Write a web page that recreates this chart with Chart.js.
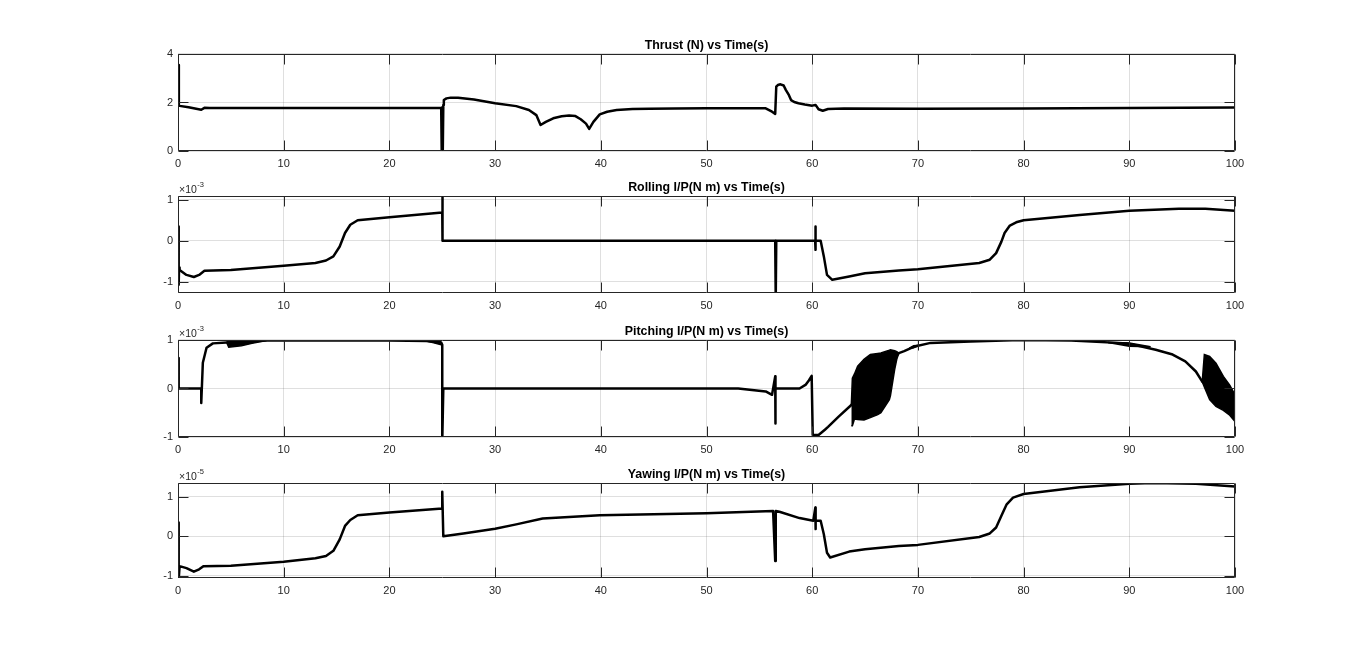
<!DOCTYPE html>
<html><head><meta charset="utf-8">
<script src="https://cdn.jsdelivr.net/npm/chart.js@4.4.1/dist/chart.umd.min.js"></script>
<style>
html,body{margin:0;padding:0;background:#fff;width:1366px;height:651px;overflow:hidden}
canvas{position:absolute;left:0}
</style></head><body>
<canvas id="c0"></canvas><canvas id="c1"></canvas><canvas id="c2"></canvas><canvas id="c3"></canvas>
<script>
// ---------- DATA ----------
const timeTicks = [0,10,20,30,40,50,60,70,80,90,100];

const titles = ["Thrust (N) vs Time(s)", "Rolling I/P(N m) vs Time(s)", "Pitching I/P(N m) vs Time(s)", "Yawing I/P(N m) vs Time(s)"];
const exponents = ["", "-3", "-3", "-5"];

// Thrust (N)
const thrustTicks = [0,2,4];
const thrustT = [0.05,0.08,0.15,1.0,2.2,2.5,3,10,20,24.9,24.95,25.0,25.05,25.1,25.15,25.4,25.8,26.5,28,30,32,33.2,33.9,34.3,34.8,35.5,36.3,37,37.6,38.1,38.6,38.9,39.3,39.9,40.6,41.5,43,44.6,47,50,53,55.6,56.2,56.5,56.6,56.75,57,57.3,57.5,57.8,58,58.3,58.7,59.3,60,60.3,60.4,60.6,61,61.5,63,70,80,90,100];
const thrustV = [3.55,1.9,1.86,1.8,1.70,1.78,1.77,1.77,1.77,1.77,0,1.8,0,1.9,2.1,2.17,2.2,2.2,2.12,1.97,1.85,1.69,1.48,1.07,1.2,1.35,1.43,1.46,1.44,1.31,1.13,0.91,1.2,1.51,1.62,1.69,1.73,1.74,1.75,1.76,1.76,1.76,1.62,1.53,2.65,2.72,2.75,2.7,2.52,2.3,2.1,2.02,1.97,1.92,1.87,1.9,1.85,1.72,1.66,1.73,1.75,1.74,1.75,1.77,1.79];

// Rolling input (x1e-3 N m)
const rollTicks = [-1,0,1];
const rollT = [0.05,0.05,0.08,0.1,0.15,0.8,1.5,2.0,2.5,5,10,13,14,14.7,15.3,15.8,16.3,17,20,25,25,25.05,56.5,56.55,56.6,60.28,60.3,60.3,60.35,60.8,61.1,61.4,61.9,63.5,65,68.2,70,75.8,76.8,77.4,77.9,78.2,78.7,79.3,80,85.3,90,94.7,97.2,100];
const rollV = [0,0.35,-1.07,-0.65,-0.71,-0.83,-0.88,-0.83,-0.73,-0.71,-0.61,-0.54,-0.48,-0.38,-0.14,0.19,0.39,0.5,0.57,0.69,1.2,0,0,-1.4,0,0,0.35,-0.22,0,0,-0.38,-0.83,-0.95,-0.87,-0.79,-0.72,-0.69,-0.54,-0.46,-0.30,-0.02,0.19,0.37,0.45,0.50,0.63,0.73,0.78,0.78,0.73];

// Pitching input (x1e-3 N m)
const pitchTicks = [-1,0,1];
const pitchT = [0.05,0.05,0.08,2.2,2.2,2.35,2.7,3.3,4.6,8.4,10,20,23.5,24.9,25.0,25.0,25.1,53,55.6,56.2,56.5,56.5,56.55,58.8,59.4,59.7,59.95,60.05,60.6,61.2,61.5,62.5,63.7,66,68.2,68.7,69.6,71.2,75,79.7,84.5,89.8,92.5,94.1,95.3,96.3,96.9,98.5,100];
const pitchV = [0,0.63,0,0,-0.3,0.53,0.84,0.93,0.95,0.99,0.99,0.99,0.98,0.95,0.9,-1.1,0,0,-0.06,-0.13,0.25,-0.72,0,0,0.08,0.17,0.26,-0.96,-0.96,-0.85,-0.79,-0.58,-0.34,0.1,0.73,0.77,0.86,0.94,0.97,1.0,0.99,0.93,0.8,0.70,0.56,0.35,0.14,-0.1,-0.4];
// dense oscillation envelopes (upper / lower)
const pitchBandAT = [4.6,4.8,6,7,8.4];
const pitchBandAHi = [0.96,0.98,0.99,1.0,1.0];
const pitchBandALo = [0.95,0.85,0.88,0.93,0.99];
const pitchBandBT = [23.5,24.2,24.9];
const pitchBandBHi = [0.99,0.99,0.98];
const pitchBandBLo = [0.98,0.94,0.9];
const pitchBandCT = [63.7,63.8,64.0,64.3,64.9,65.5,66.2,66.5,67.3,67.4,67.8,68.0,68.2];
const pitchBandCHi = [-0.34,0.21,0.3,0.46,0.6,0.70,0.72,0.73,0.79,0.80,0.78,0.76,0.73];
const pitchBandCLo = [-0.77,-0.77,-0.63,-0.64,-0.65,-0.6,-0.54,-0.5,-0.23,-0.15,0.39,0.6,0.73];
const pitchBandDT = [69.2,69.6,70.1];
const pitchBandDHi = [0.83,0.88,0.89];
const pitchBandDLo = [0.83,0.84,0.89];
const pitchBandET = [88,90,92];
const pitchBandEHi = [0.95,0.94,0.86];
const pitchBandELo = [0.95,0.87,0.86];
const pitchBandFT = [96.9,97.1,97.6,98.2,98.9,99.5,100];
const pitchBandFHi = [0.14,0.70,0.66,0.52,0.25,0.07,-0.13];
const pitchBandFLo = [0.14,0.03,-0.23,-0.37,-0.45,-0.55,-0.68];

// Yawing input (x1e-5 N m)
const yawTicks = [-1,0,1];
const yawT = [0.05,0.05,0.08,0.15,0.8,1.5,2.0,2.4,5,10,13,14,14.7,15.3,15.8,16.3,17,20,25,25,25.1,27,30,32,34.5,39.9,45,50,56.3,56.5,56.55,56.9,58.8,60.1,60.3,60.3,60.35,60.8,61.1,61.4,61.7,63.5,65,68.2,70,75.8,76.8,77.4,77.9,78.4,79,80,85.3,90,92.2,96.3,100];
const yawV = [0,0.35,-1.1,-0.76,-0.81,-0.9,-0.84,-0.76,-0.75,-0.65,-0.56,-0.5,-0.37,-0.08,0.26,0.41,0.53,0.6,0.70,1.13,0,0.07,0.19,0.3,0.45,0.53,0.56,0.58,0.64,-0.63,0.64,0.62,0.46,0.39,0.73,0.18,0.39,0.39,0.05,-0.42,-0.54,-0.39,-0.33,-0.25,-0.22,-0.02,0.07,0.22,0.52,0.81,0.98,1.07,1.24,1.33,1.35,1.33,1.26];

// ---------- RENDERING ----------
const FONT = "'Liberation Sans', Arial, Helvetica, sans-serif";
const TXT = '#262626';
const pts = (t, v) => t.map((x, i) => ({x: x, y: v[i]}));
const lineDs = (t, v) => ({data: pts(t, v), borderColor:'#000', borderWidth:2.5, borderJoinStyle:'round', pointRadius:0, fill:false, tension:0, clip:0});
const bandDs = (t, hi, lo) => [
  {data: pts(t, hi), borderColor:'#000', borderWidth:1.5, pointRadius:0, fill:false, tension:0, clip:0},
  {data: pts(t, lo), borderColor:'#000', borderWidth:1.5, pointRadius:0, fill:'-1', backgroundColor:'#000', tension:0, clip:0}
];

const matlabAxes = {
  id: 'matlabAxes',
  afterDatasetsDraw(chart, args, opts) {
    const ctx = chart.ctx, a = chart.chartArea, xs = chart.scales.x, ys = chart.scales.y;
    ctx.save();
    ctx.strokeStyle = TXT; ctx.lineWidth = 1;
    const L = Math.round(a.left) + 0.5, R = Math.round(a.right) - 0.5;
    const T = Math.round(a.top) + 0.5, B = Math.round(a.bottom) - 0.5;
    ctx.beginPath();
    ctx.rect(L, T, R - L, B - T);
    const tl = 10;
    timeTicks.forEach(v => {
      const px = Math.round(xs.getPixelForValue(v)) + 0.5;
      ctx.moveTo(px, T); ctx.lineTo(px, T + tl);
      ctx.moveTo(px, B); ctx.lineTo(px, B - tl);
    });
    opts.yt.forEach(v => {
      const py = Math.round(ys.getPixelForValue(v)) + 0.5;
      ctx.moveTo(L, py); ctx.lineTo(L + tl, py);
      ctx.moveTo(R, py); ctx.lineTo(R - tl, py);
    });
    ctx.stroke();
    if (opts.exp) {
      ctx.fillStyle = TXT;
      ctx.textBaseline = 'alphabetic';
      ctx.textAlign = 'left';
      ctx.font = '10.5px ' + FONT;
      const s = '\u00d710';
      ctx.fillText(s, a.left + 1, a.top - 3);
      const w = ctx.measureText(s).width;
      ctx.font = '7.5px ' + FONT;
      ctx.fillText(opts.exp, a.left + 1 + w + 0.5, a.top - 9);
    }
    ctx.restore();
  }
};

const panels = [
  {top:54,  h:97, min:0,     max:4,    ticks:thrustTicks, ds:[lineDs(thrustT, thrustV)]},
  {top:196, h:97, min:-1.27, max:1.09, ticks:rollTicks,   ds:[lineDs(rollT, rollV)]},
  {top:340, h:97, min:-1,    max:1,    ticks:pitchTicks,  ds:[
      lineDs(pitchT, pitchV),
      ...bandDs(pitchBandAT, pitchBandAHi, pitchBandALo),
      ...bandDs(pitchBandBT, pitchBandBHi, pitchBandBLo),
      ...bandDs(pitchBandCT, pitchBandCHi, pitchBandCLo),
      ...bandDs(pitchBandDT, pitchBandDHi, pitchBandDLo),
      ...bandDs(pitchBandET, pitchBandEHi, pitchBandELo),
      ...bandDs(pitchBandFT, pitchBandFHi, pitchBandFLo)]},
  {top:483, h:95, min:-1.06, max:1.35, ticks:yawTicks,    ds:[lineDs(yawT, yawV)]}
];

panels.forEach((p, i) => {
  const cv = document.getElementById('c' + i);
  const H = 40 + p.h + 25;
  cv.width = 1366; cv.height = H;
  cv.style.width = '1366px'; cv.style.height = H + 'px';
  cv.style.top = (p.top - 40) + 'px';
  new Chart(cv, {
    type: 'line',
    data: {datasets: p.ds},
    plugins: [matlabAxes],
    options: {
      responsive: false, animation: false, devicePixelRatio: 1,
      layout: {padding: {top: 24, right: 131, left: 0, bottom: 0}},
      plugins: {
        legend: {display: false}, tooltip: {enabled: false},
        title: {display: true, text: titles[i], fullSize: false, color: '#000',
                font: {family: FONT, size: 12.4, weight: 'bold', lineHeight: 1.2}, padding: {top: 0, bottom: 1.1}},
        matlabAxes: {yt: p.ticks, exp: exponents[i]}
      },
      scales: {
        x: {type: 'linear', min: 0, max: 100,
            afterBuildTicks: s => { s.ticks = timeTicks.map(v => ({value: v})); },
            afterFit: s => { s.height = 25; },
            grid: {color: 'rgba(38,38,38,0.15)', drawTicks: false, lineWidth: 1},
            border: {display: false},
            ticks: {padding: 6, color: TXT, font: {family: FONT, size: 11}, maxRotation: 0, autoSkip: false}},
        y: {type: 'linear', min: p.min, max: p.max,
            afterBuildTicks: s => { s.ticks = p.ticks.map(v => ({value: v})); },
            afterFit: s => { s.width = 178; },
            grid: {color: 'rgba(38,38,38,0.15)', drawTicks: false, lineWidth: 1},
            border: {display: false},
            ticks: {padding: 5, color: TXT, font: {family: FONT, size: 11}, autoSkip: false}}
      }
    }
  });
});
</script>
</body></html>
